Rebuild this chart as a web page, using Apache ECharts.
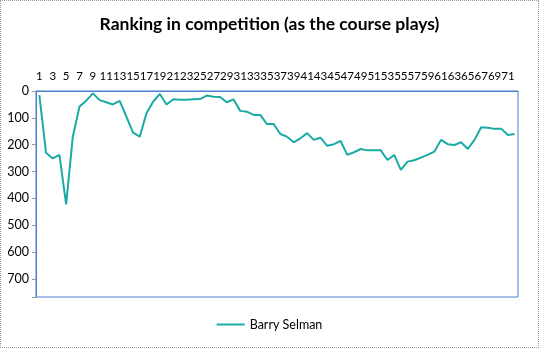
<!DOCTYPE html>
<html>
<head>
<meta charset="utf-8">
<script src="https://cdn.jsdelivr.net/npm/echarts@6/dist/echarts.min.js"></script>
<style>
html,body{margin:0;padding:0;background:#fff;}
#c{width:537px;height:346px;border:1px dotted #999;}
</style>
</head>
<body>
<div id="c"></div>
<script>
const titleText = 'Ranking in competition (as the course plays)';
const seriesName = 'Barry Selman';
const holes = Array.from({length:72},(_,i)=>String(i+1));
const ranking = [15,230,251,238,422,170,58,36,9,34,42,50,37,95,155,170,83,40,11,50,31,33,33,31,30,17,21,22,42,31,74,77,89,89,123,123,160,170,191,176,157,182,174,204,198,186,238,228,216,221,221,221,257,238,294,263,258,248,238,226,182,198,201,191,216,182,135,137,141,141,164,160];
const yMin = 0, yMax = 767, yStep = 100;

const chart = echarts.init(document.getElementById('c'));
chart.setOption({
  animation:false,
  title:{text:titleText,left:'center',top:9,textStyle:{fontFamily:'Lato',fontWeight:'bold',fontSize:17.5,color:'#000'}},
  grid:{left:35,right:20,top:90,bottom:50,show:true,borderColor:'#4a7fd0',borderWidth:1,backgroundColor:'transparent'},
  legend:{bottom:11,left:'center',itemWidth:28,itemHeight:2,icon:'rect',textStyle:{fontFamily:'Lato',fontSize:12.5,color:'#000'},data:[seriesName]},
  xAxis:{type:'category',data:holes,position:'top',boundaryGap:true,
    axisLine:{lineStyle:{color:'#4a7fd0'}},
    axisTick:{interval:0,length:4,lineStyle:{color:'#999'}},
    axisLabel:{interval:1,fontFamily:'Lato',fontSize:11.5,color:'#000',margin:9}},
  yAxis:{type:'value',inverse:true,min:yMin,max:yMax,interval:yStep,
    splitLine:{show:false},
    axisLine:{show:true,lineStyle:{color:'#4a7fd0'}},
    axisTick:{show:true,length:4,lineStyle:{color:'#999'}},
    axisLabel:{fontFamily:'Lato',fontSize:12.5,color:'#000',margin:7,formatter:v=>v%100===0?String(v):''}},
  series:[{name:seriesName,type:'line',data:ranking,showSymbol:false,lineStyle:{color:'#1aaba5',width:2},itemStyle:{color:'#1aaba5'}}]
});
</script>
</body>
</html>
